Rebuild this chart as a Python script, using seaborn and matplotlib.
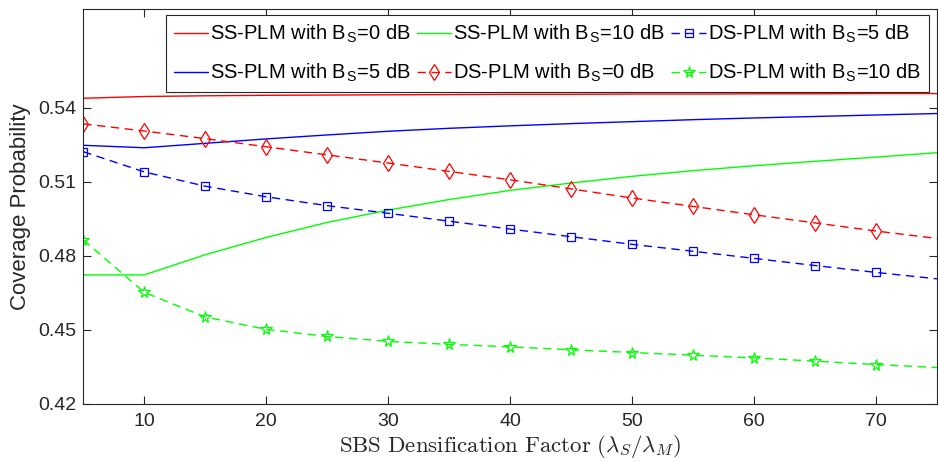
import matplotlib
matplotlib.use("Agg")
import matplotlib.pyplot as plt
import seaborn as sns
import pandas as pd

# ---- data ----
densification = [5, 10, 15, 20, 25, 30, 35, 40, 45, 50, 55, 60, 65, 70, 75]
ss_plm_0db = [0.5439, 0.5446, 0.5449, 0.5451, 0.5452, 0.5453, 0.5454, 0.5455,
              0.5455, 0.5456, 0.5456, 0.5457, 0.5457, 0.5458, 0.5458]
ss_plm_5db = [0.5248, 0.5238, 0.5256, 0.5274, 0.5290, 0.5305, 0.5317, 0.5327,
              0.5336, 0.5344, 0.5352, 0.5359, 0.5365, 0.5371, 0.5377]
ss_plm_10db = [0.4722, 0.4722, 0.4804, 0.4874, 0.4935, 0.4985, 0.5028, 0.5065,
               0.5095, 0.5122, 0.5145, 0.5165, 0.5183, 0.5200, 0.5218]
ds_plm_0db = [0.5335, 0.5306, 0.5275, 0.5242, 0.5209, 0.5176, 0.5142, 0.5108,
              0.5071, 0.5034, 0.5000, 0.4966, 0.4933, 0.4900, 0.4870]
ds_plm_5db = [0.5222, 0.5140, 0.5082, 0.5039, 0.5003, 0.4972, 0.4940, 0.4908,
              0.4877, 0.4846, 0.4818, 0.4789, 0.4760, 0.4732, 0.4706]
ds_plm_10db = [0.4864, 0.4651, 0.4551, 0.4501, 0.4472, 0.4452, 0.4440, 0.4430,
               0.4418, 0.4407, 0.4396, 0.4385, 0.4372, 0.4358, 0.4346]

series_labels = [
    "SS-PLM with B$_\\mathregular{S}$=0 dB",
    "SS-PLM with B$_\\mathregular{S}$=5 dB",
    "SS-PLM with B$_\\mathregular{S}$=10 dB",
    "DS-PLM with B$_\\mathregular{S}$=0 dB",
    "DS-PLM with B$_\\mathregular{S}$=5 dB",
    "DS-PLM with B$_\\mathregular{S}$=10 dB",
]
x_ticks = [10, 20, 30, 40, 50, 60, 70]
y_ticks = [0.42, 0.45, 0.48, 0.51, 0.54]
y_tick_labels = ["0.42", "0.45", "0.48", "0.51", "0.54"]

# ---- style ----
sns.set_theme(style="white")
plt.rcParams["font.family"] = ["Liberation Sans", "DejaVu Sans"]
plt.rcParams["mathtext.fontset"] = "cm"
axis_color = "#262626"

W, H = 938, 462
fig = plt.figure(figsize=(W / 100, H / 100), dpi=100)
left, right, top, bottom = 83.3, 937.0, 9.3, 403.5
ax = fig.add_axes([left / W, (H - bottom) / H, (right - left) / W, (bottom - top) / H])

series = [ss_plm_0db, ss_plm_5db, ss_plm_10db, ds_plm_0db, ds_plm_5db, ds_plm_10db]
colors = ["#ff0000", "#0000ff", "#00ff00", "#ff0000", "#0000ff", "#00ff00"]
solid = [True, True, True, False, False, False]
markers = [None, None, None, "d", "s", "*"]
msizes = [0, 0, 0, 8, 5.5, 8.5]

handles = []
for vals, lab, col, sol, mk, ms in zip(series, series_labels, colors, solid, markers, msizes):
    df = pd.DataFrame({"x": densification, "y": vals})
    kws = dict(color=col, linewidth=1.0, label=lab)
    if sol:
        kws["linestyle"] = "-"
    else:
        kws.update(linestyle=(0, (6, 4)), marker=mk, markersize=ms,
                   markerfacecolor="none", markeredgecolor=col, markeredgewidth=0.9,
                   markevery=list(range(len(densification) - 1)))
    sns.lineplot(data=df, x="x", y="y", ax=ax, legend=False, **kws)
    handles.append(ax.get_lines()[-1])

ax.set_xlim(5, 75)
ax.set_ylim(0.42, 0.58)
ax.set_xticks(x_ticks)
ax.set_xticklabels([str(t) for t in x_ticks])
ax.set_yticks(y_ticks)
ax.set_yticklabels(y_tick_labels)

for sp in ax.spines.values():
    sp.set_color(axis_color)
    sp.set_linewidth(0.8)
ax.tick_params(axis="both", direction="in", length=5.8, width=0.8, color=axis_color,
               labelcolor=axis_color, labelsize=14, top=True, right=True,
               left=True, bottom=True)
ax.tick_params(axis="x", pad=7)
ax.tick_params(axis="y", pad=5)

ax.set_ylabel("Coverage Probability", fontsize=16, color=axis_color)
ax.yaxis.set_label_coords((31 - left) / (right - left), 0.5)
ax.set_xlabel(r"$\mathrm{SBS\ Densification\ Factor\ }(\lambda_S/\lambda_M)$",
              fontsize=16.5, color=axis_color, va="top")
ax.xaxis.set_label_coords(0.5, -(433 - bottom) / (bottom - top))

leg = fig.legend(handles=handles, labels=series_labels, ncol=3,
                 loc="upper right", bbox_to_anchor=(929 / W, (H - 15) / H),
                 bbox_transform=fig.transFigure, borderaxespad=0,
                 fontsize=14.5, frameon=True, fancybox=False, framealpha=1,
                 edgecolor=axis_color, handlelength=1.7, handletextpad=0.1,
                 columnspacing=0.3, labelspacing=0.8, borderpad=0.4)
leg.get_frame().set_linewidth(0.8)
for t in leg.get_texts():
    t.set_color("black")

fig.savefig("out.png", dpi=100, facecolor="white")
